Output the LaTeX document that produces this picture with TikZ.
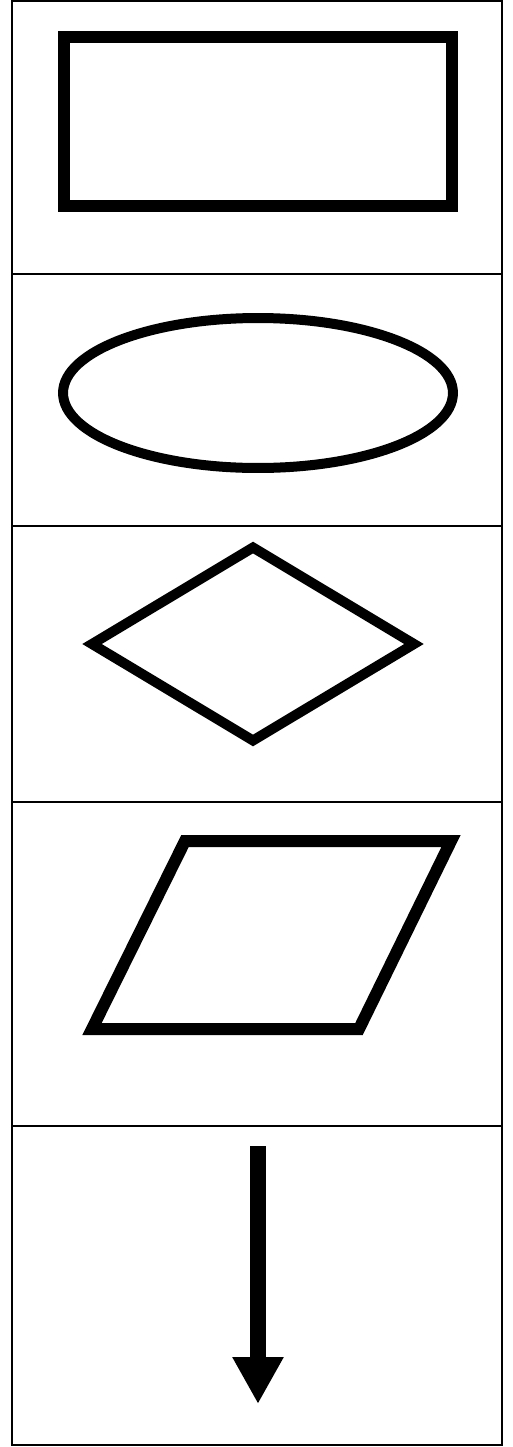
\documentclass[tikz,border=0pt]{standalone}
\usepackage{tikz}
\usetikzlibrary{arrows.meta, shapes.geometric}

\begin{document}
\begin{tikzpicture}[x=0.02cm, y=-0.02cm,
        symbol/.style={draw, inner sep=0pt, outer sep=0pt, miter limit=20},
        rule/.style={line width=0.04cm}]
        \useasboundingbox (0,0) rectangle (513,1447);
        
        % Table frame
        \draw[rule] (12,1) rectangle (502,1445);
        \foreach \y in {274, 526, 802, 1126}
            \draw[rule] (12,\y) -- (502,\y);
        
        % Process box
        \node (process) [symbol, rectangle, line width=0.24cm, minimum width=7.76cm, minimum height=3.38cm] at (258,121.5) {};
        
        % Terminal
        \node (terminal) [symbol, ellipse, line width=0.2cm, minimum width=7.8cm, minimum height=3cm] at (258,393) {};
        
        % Decision
        \node (decision) [symbol, diamond, line width=0.2cm, minimum width=6.44cm, minimum height=3.86cm] at (253,644) {};
        
        % Input/Output
        \coordinate (io-sw) at (92,1029);
        \coordinate (io-nw) at (185,841);
        \coordinate (io-ne) at (451,841);
        \coordinate (io-se) at (359,1029);
        \draw[symbol, line width=0.24cm] (io-sw) -- (io-nw) -- (io-ne) -- (io-se) -- cycle;
        
        % Flow line
        \coordinate (flowstart) at (258,1146);
        \coordinate (flowend) at (258,1404);
        \draw[line width=0.32cm, -{Triangle[length=0.94cm, width=0.96cm]}] (flowstart) -- (flowend);
    \end{tikzpicture}
\end{document}
